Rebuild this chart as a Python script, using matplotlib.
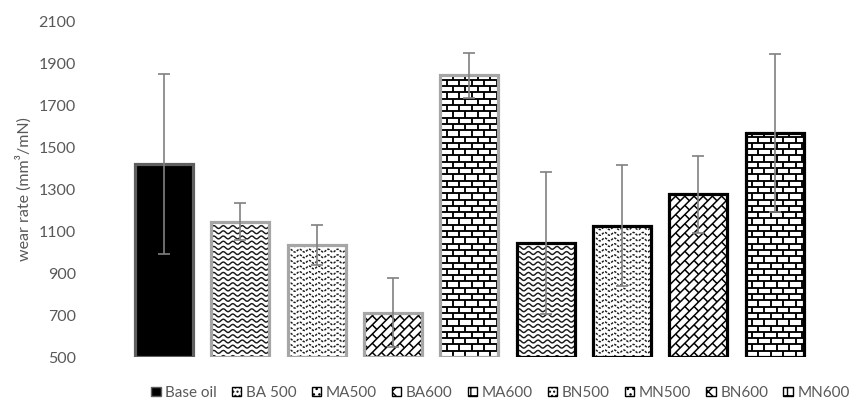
import numpy as np
import matplotlib
matplotlib.use("Agg")
import matplotlib.pyplot as plt
from matplotlib.collections import LineCollection
from matplotlib.patches import Patch
from matplotlib.transforms import IdentityTransform

plt.rcParams["font.family"] = ["Lato", "DejaVu Sans"]

samples = ["Base oil", "BA 500", "MA500", "BA600", "MA600", "BN500", "MN500", "BN600", "MN600"]
wear_rate = [1420, 1145, 1035, 712, 1843, 1045, 1127, 1275, 1566]
wear_err = [430, 87, 95, 165, 108, 338, 290, 185, 377]

# fill style per sample: (pattern, edge colour)
patterns = ["solid", "wave", "wave_dot", "dbrick", "hbrick", "wave", "wave_dot", "dbrick", "hbrick"]
edges = ["#5f5f5f", "#a6a6a6", "#a6a6a6", "#a6a6a6", "#a6a6a6", "black", "black", "black", "black"]
legend_hatch = {"solid": None, "wave": "....", "wave_dot": "...", "dbrick": "xx", "hbrick": "++"}

GRAY = "#595959"


def wave_lines(x0, y0, x1, y1, gap=5.2, period=9.5, amp=1.4):
    xs = np.linspace(x0 - period, x1 + period, 200)
    segs = []
    for yy in np.arange(y0 - gap, y1 + gap, gap):
        segs.append(np.column_stack([xs, yy + amp * np.sin(2 * np.pi * (xs - x0) / period)]))
    return segs


def hbrick_lines(x0, y0, x1, y1, gap=6.3, length=12.5):
    segs = []
    for k, yy in enumerate(np.arange(y0, y1 + gap, gap)):
        segs.append([(x0 - 2, yy), (x1 + 2, yy)])
        off = (k % 2) * length / 2
        for xx in np.arange(x0 - length + off, x1 + length, length):
            segs.append([(xx, yy), (xx, yy + gap)])
    return segs


def dbrick_lines(x0, y0, x1, y1, gap=6.5, length=13.0):
    # bricks laid along the 45 degree diagonal; u runs along the courses, v across
    r2 = np.sqrt(2)
    corners = np.array([[x0, y0], [x0, y1], [x1, y0], [x1, y1]])
    u = (corners[:, 0] + corners[:, 1]) / r2
    v = (corners[:, 1] - corners[:, 0]) / r2

    def xy(uu, vv):
        return ((uu - vv) / r2, (uu + vv) / r2)

    segs = []
    kmin, kmax = int(np.floor(v.min() / gap)) - 1, int(np.ceil(v.max() / gap)) + 1
    for k in range(kmin, kmax + 1):
        vv = k * gap
        segs.append([xy(u.min() - 5, vv), xy(u.max() + 5, vv)])
        off = (k % 2) * length / 2
        start = np.floor(u.min() / length) * length - length + off
        for uu in np.arange(start, u.max() + length, length):
            segs.append([xy(uu, vv), xy(uu, vv + gap)])
    return segs


fig = plt.figure(figsize=(8.6, 4.03), dpi=100)
ax = fig.add_axes([0.1465, 0.114, 0.7985, 0.833])

x = np.arange(len(samples))
width = 0.76
face = ["black" if p == "solid" else "white" for p in patterns]
bars = ax.bar(x, np.array(wear_rate) - 500, width, bottom=500, color=face, edgecolor="none", zorder=1)
ax.set_xlim(-0.5, len(samples) - 0.5)
ax.set_ylim(500, 2100)
ax.set_yticks(np.arange(500, 2101, 200))

for bar, pat in zip(bars, patterns):
    if pat == "solid":
        continue
    (bx0, by0), (bx1, by1) = ax.transData.transform(
        [(bar.get_x(), bar.get_y()), (bar.get_x() + bar.get_width(), bar.get_y() + bar.get_height())])
    if pat == "wave":
        lc = LineCollection(wave_lines(bx0, by0, bx1, by1), colors="#1a1a1a", linewidths=1.05)
    elif pat == "wave_dot":
        lc = LineCollection(wave_lines(bx0, by0, bx1, by1, gap=5.6), colors="#1a1a1a",
                            linewidths=1.05, linestyles=(0, (1.6, 0.9)))
    elif pat == "hbrick":
        lc = LineCollection(hbrick_lines(bx0, by0, bx1, by1), colors="black", linewidths=1.35)
    else:
        lc = LineCollection(dbrick_lines(bx0, by0, bx1, by1), colors="black", linewidths=1.1)
    lc.set_transform(IdentityTransform())
    lc.set_zorder(2)
    ax.add_collection(lc, autolim=False)
    # clip after adding, otherwise add_collection resets it to the axes patch
    lc.set_clip_path(bar)

# bar outlines on top of the fill patterns
ax.bar(x, np.array(wear_rate) - 500, width, bottom=500, fill=False, edgecolor=edges, linewidth=2.3, zorder=3)

ax.errorbar(x, wear_rate, yerr=wear_err, fmt="none", ecolor="#808080", elinewidth=1.2,
            capsize=4, capthick=1.2, zorder=4)

for s in ax.spines.values():
    s.set_visible(False)
ax.tick_params(axis="both", length=0, labelsize=11.5, labelcolor=GRAY, pad=36)
ax.set_xticks([])
ax.set_ylabel("wear rate (mm³/mN)", fontsize=11.5, color=GRAY, labelpad=5)

handles = []
for s, pat, ec in zip(samples, patterns, edges):
    fc = "black" if pat == "solid" else "white"
    handles.append(Patch(facecolor=fc, edgecolor=ec if pat == "solid" else "black",
                         hatch=legend_hatch[pat], linewidth=1.0, label=s))
fig.legend(handles=handles, loc="center", bbox_to_anchor=(0.582, 0.025), ncol=len(samples),
           frameon=False, fontsize=11, labelcolor=GRAY, handlelength=0.6, handleheight=0.6,
           handletextpad=0.3, columnspacing=1.0)

fig.savefig("out.png", dpi=100)
